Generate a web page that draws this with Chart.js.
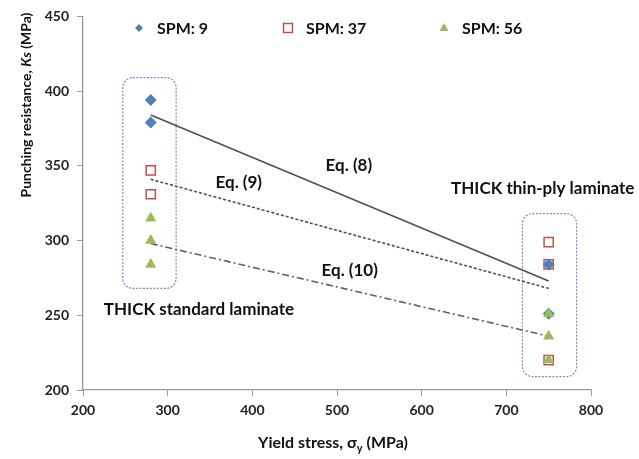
<!DOCTYPE html>
<html>
<head>
<meta charset="utf-8">
<script src="https://cdn.jsdelivr.net/npm/chart.js@4/dist/chart.umd.min.js"></script>
<style>
  html, body { margin: 0; padding: 0; background: #fff; }
  #wrap { width: 639px; height: 459px; position: relative; }
</style>
</head>
<body>
<div id="wrap"><canvas id="c" width="639" height="459"></canvas></div>
<script>
// Series: yield stress (MPa) vs punching resistance Ks (MPa)
const seriesNames = ['SPM: 9', 'SPM: 37', 'SPM: 56'];
const spm9X = [280, 280, 750, 750];
const spm9Y = [394, 379, 284, 251];
const spm37X = [280, 280, 750, 750, 750];
const spm37Y = [347, 331, 299, 284, 220];
const spm56X = [280, 280, 280, 750, 750, 750];
const spm56Y = [315, 300, 284, 251, 236, 220];

// Model predictions (end points of each fitted line)
const eqX = [280, 750];
const eq8Y = [384, 273];
const eq9Y = [341, 268];
const eq10Y = [298, 236];

// Axis ticks
const xTicks = [200, 300, 400, 500, 600, 700, 800];
const yTicks = [200, 250, 300, 350, 400, 450];

const FONT = 'Lato, "Open Sans", sans-serif';
const BLUE = '#4F81BD', RED = '#C0504D', GREEN = '#9BBB59';

const pts = (xs, ys) => xs.map((x, i) => ({ x: x, y: ys[i] }));

// Annotation text and group boxes, placed in data units
const notes = [
  { text: 'Eq. (8)', x: 514, y: 350 },
  { text: 'Eq. (9)', x: 384, y: 339 },
  { text: 'Eq. (10)', x: 515, y: 280 },
  { text: 'THICK thin-ply laminate', x: 743, y: 335 },
  { text: 'THICK standard laminate', x: 337, y: 254 }
];
const groups = [
  { x0: 247, x1: 310, y0: 268, y1: 409 },
  { x0: 719, x1: 783, y0: 209, y1: 318 }
];

function marker(ctx, style, x, y) {
  ctx.save();
  ctx.lineWidth = 1.5;
  if (style === 'rectRot') {
    ctx.fillStyle = BLUE;
    ctx.beginPath();
    ctx.moveTo(x, y - 4); ctx.lineTo(x + 4, y); ctx.lineTo(x, y + 4); ctx.lineTo(x - 4, y);
    ctx.closePath(); ctx.fill();
  } else if (style === 'rect') {
    ctx.strokeStyle = RED; ctx.fillStyle = '#fff';
    ctx.fillRect(x - 4.5, y - 4.5, 9, 9);
    ctx.strokeRect(x - 4.5, y - 4.5, 9, 9);
  } else {
    ctx.fillStyle = GREEN;
    ctx.beginPath();
    ctx.moveTo(x, y - 5); ctx.lineTo(x + 4.5, y + 3); ctx.lineTo(x - 4.5, y + 3);
    ctx.closePath(); ctx.fill();
  }
  ctx.restore();
}

const decor = {
  id: 'decor',
  beforeDatasetsDraw(chart) {
    const { ctx, scales: { x, y } } = chart;
    ctx.save();
    ctx.strokeStyle = '#6F8FC8';
    ctx.lineWidth = 1.2;
    ctx.setLineDash([2, 1.5]);
    groups.forEach(g => {
      const l = x.getPixelForValue(g.x0), r = x.getPixelForValue(g.x1);
      const t = y.getPixelForValue(g.y1), b = y.getPixelForValue(g.y0);
      ctx.beginPath();
      ctx.roundRect(l, t, r - l, b - t, 10);
      ctx.stroke();
    });
    ctx.restore();
  },
  afterDraw(chart) {
    const { ctx, scales: { x, y } } = chart;
    ctx.save();
    ctx.fillStyle = '#111';
    ctx.textAlign = 'center';
    ctx.textBaseline = 'middle';
    ctx.font = 'bold 17px ' + FONT;
    notes.forEach(n => ctx.fillText(n.text, x.getPixelForValue(n.x), y.getPixelForValue(n.y)));

    // Legend row
    ctx.font = 'bold 16px ' + FONT;
    ctx.textAlign = 'left';
    const styles = ['rectRot', 'rect', 'triangle'];
    const lx = [139, 288, 444];
    seriesNames.forEach((name, i) => {
      marker(ctx, styles[i], lx[i], 28);
      ctx.fillStyle = '#111';
      ctx.fillText(name, lx[i] + 18, 29);
    });

    // X axis title with subscript
    const big = 'bold 16px ' + FONT, small = 'bold 11px ' + FONT;
    ctx.font = big;
    const xa = 'Yield stress, σ', xs = 'y', xb = ' (MPa)';
    const wA = ctx.measureText(xa).width;
    ctx.font = small;
    const wS = ctx.measureText(xs).width;
    ctx.font = big;
    const wB = ctx.measureText(xb).width;
    const sx = 333 - (wA + wS + wB) / 2;
    const ty = 443;
    ctx.fillText(xa, sx, ty);
    ctx.font = small;
    ctx.fillText(xs, sx + wA, ty + 5);
    ctx.font = big;
    ctx.fillText(xb, sx + wA + wS, ty);

    // Y axis title with italic symbol
    ctx.translate(26, 105);
    ctx.rotate(-Math.PI / 2);
    const ya = 'Punching resistance, ', ys = 'Ks', yb = ' (MPa)';
    const yf = 'bold 14px ' + FONT, yi = 'italic bold 14px ' + FONT;
    ctx.font = yf;
    const a = ctx.measureText(ya).width, c = ctx.measureText(yb).width;
    ctx.font = yi;
    const b = ctx.measureText(ys).width;
    const s = -(a + b + c) / 2;
    ctx.font = yf;
    ctx.fillText(ya, s, 0);
    ctx.font = yi;
    ctx.fillText(ys, s + a, 0);
    ctx.font = yf;
    ctx.fillText(yb, s + a + b, 0);
    ctx.restore();
  }
};

const lineDs = (data, dash, color) => ({
  type: 'line', data: pts(eqX, data), showLine: true, pointRadius: 0,
  borderColor: color, borderWidth: 1.6, borderDash: dash, fill: false, order: 4
});

new Chart(document.getElementById('c'), {
  type: 'scatter',
  data: {
    datasets: [
      { label: seriesNames[0], data: pts(spm9X, spm9Y), pointStyle: 'rectRot', pointRadius: 6,
        backgroundColor: BLUE, borderColor: BLUE, borderWidth: 0, order: 2 },
      { label: seriesNames[1], data: pts(spm37X, spm37Y), pointStyle: 'rect', pointRadius: 6.5,
        backgroundColor: 'rgba(255,255,255,0)', borderColor: RED, borderWidth: 1.5, order: 3 },
      { label: seriesNames[2], data: pts(spm56X, spm56Y), pointStyle: 'triangle', pointRadius: 6.5,
        backgroundColor: GREEN, borderColor: GREEN, borderWidth: 0, order: 1 },
      lineDs(eq8Y, [], '#505050'),
      lineDs(eq9Y, [3, 2], '#505050'),
      lineDs(eq10Y, [7, 3, 2, 3], '#606060')
    ]
  },
  options: {
    responsive: false,
    animation: false,
    layout: { padding: { top: 15, right: 48, left: 0, bottom: 0 } },
    plugins: { legend: { display: false }, tooltip: { enabled: false } },
    scales: {
      x: {
        type: 'linear', min: 200, max: 800,
        afterBuildTicks: s => { s.ticks = xTicks.map(v => ({ value: v })); },
        afterFit: s => { s.height = 69; },
        grid: { drawOnChartArea: false, tickLength: 6, color: '#999' },
        border: { color: '#999', width: 1.3 },
        ticks: { padding: 6, color: '#222', font: { family: FONT, size: 14, weight: 'bold' } }
      },
      y: {
        type: 'linear', min: 200, max: 450,
        afterBuildTicks: s => { s.ticks = yTicks.map(v => ({ value: v })); },
        afterFit: s => { s.width = 83; },
        grid: { drawOnChartArea: false, tickLength: 6, color: '#999' },
        border: { color: '#999', width: 1.3 },
        ticks: { padding: 8, color: '#222', font: { family: FONT, size: 14, weight: 'bold' } }
      }
    }
  },
  plugins: [decor]
});
</script>
</body>
</html>
